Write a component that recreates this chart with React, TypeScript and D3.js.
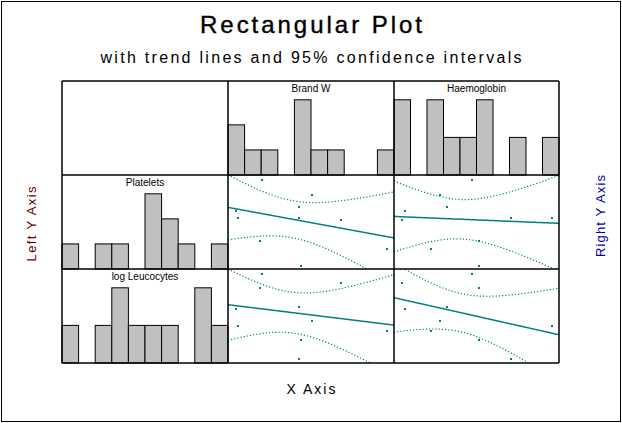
import React from "react";
import * as d3 from "d3";

// ---- data (values on a 0–100 plotting scale, 10 observations) ----
const columnVariables = ["Brand W", "Haemoglobin"];
const rowVariables = ["Platelets", "log Leucocytes"];

const brandW = [19.7, 50.0, 42.2, 4.0, 5.4, 42.2, 67.5, 18.5, 95.2, 43.4];
const haemoglobin = [46.5, 27.1, 31.3, 5.9, 95.2, 70.1, 4.1, 50.9, 21.6, 50.9];
const platelets = [96.1, 80.1, 67.3, 62.8, 55.6, 55.6, 53.5, 31.2, 22.7, 4.6];
const logLeucocytes = [96.1, 45.7, 60.6, 58.8, 40.7, 5.3, 86.5, 81.2, 35.1, 25.9];

// histogram counts (10 bins each)
const brandWCounts = [2, 1, 1, 0, 3, 1, 1, 0, 0, 1];
const haemoglobinCounts = [2, 0, 2, 1, 1, 2, 0, 1, 0, 1];
const plateletsCounts = [1, 0, 1, 1, 0, 3, 2, 1, 0, 1];
const logLeucocytesCounts = [1, 0, 1, 2, 1, 1, 1, 0, 2, 1];

const titleText = "Rectangular Plot";
const subtitleText = "with trend lines and 95% confidence intervals";
const xAxisLabel = "X Axis";
const leftAxisLabel = "Left Y Axis";
const rightAxisLabel = "Right Y Axis";

const T_975_DF8 = 2.306;

const TEAL = "#008080";
const FONT = "Arial, 'Liberation Sans', sans-serif";

function fit(xs: number[], ys: number[]) {
  const n = xs.length;
  const mx = d3.mean(xs)!;
  const my = d3.mean(ys)!;
  let sxx = 0, sxy = 0;
  for (let i = 0; i < n; i++) {
    sxx += (xs[i] - mx) ** 2;
    sxy += (xs[i] - mx) * (ys[i] - my);
  }
  const slope = sxy / sxx;
  const intercept = my - slope * mx;
  let sse = 0;
  for (let i = 0; i < n; i++) sse += (ys[i] - (intercept + slope * xs[i])) ** 2;
  const s = Math.sqrt(sse / (n - 2));
  return { n, mx, sxx, slope, intercept, s };
}

export default function App() {
  const W = 622, H = 423;
  const colEdges = [62, 228, 394, 559];
  const rowEdges = [81, 175, 269, 363];

  const colValues = [brandW, haemoglobin];
  const rowValues = [platelets, logLeucocytes];
  const colCounts = [brandWCounts, haemoglobinCounts];
  const rowCounts = [plateletsCounts, logLeucocytesCounts];

  const histogram = (counts: number[], x0: number, x1: number, y0: number, y1: number, key: string, label: string) => {
    const bx = d3.scaleLinear().domain([0, counts.length]).range([x0, x1]);
    const maxC = d3.max(counts)!;
    const hy = d3.scaleLinear().domain([0, maxC]).range([y1, y1 - 0.8 * (y1 - y0)]);
    return (
      <g key={key}>
        {counts.map((c, i) =>
          c > 0 ? (
            <rect key={i} x={bx(i)} y={hy(c)} width={bx(i + 1) - bx(i)} height={y1 - hy(c)}
              fill="#C0C0C0" stroke="#000" strokeWidth={1} />
          ) : null
        )}
        <text x={(x0 + x1) / 2} y={y0 + 11} textAnchor="middle" fontFamily={FONT} fontSize={10} fill="#000">{label}</text>
      </g>
    );
  };

  const scatter = (xs: number[], ys: number[], x0: number, x1: number, y0: number, y1: number, key: string) => {
    const sx = d3.scaleLinear().domain([0, 100]).range([x0, x1]);
    const sy = d3.scaleLinear().domain([0, 100]).range([y1, y0]);
    const f = fit(xs, ys);
    const grid = d3.range(0, 100.01, 0.5);
    const hw = (x: number) => T_975_DF8 * f.s * Math.sqrt(1 / f.n + (x - f.mx) ** 2 / f.sxx);
    const yhat = (x: number) => f.intercept + f.slope * x;
    const trend = d3.line<number>().x((x) => sx(x)).y((x) => sy(yhat(x)))(grid)!;
    const upper = d3.line<number>().x((x) => sx(x)).y((x) => sy(yhat(x) + hw(x)))(grid)!;
    const lower = d3.line<number>().x((x) => sx(x)).y((x) => sy(yhat(x) - hw(x)))(grid)!;
    const clipId = `clip-${key}`;
    return (
      <g key={key}>
        <defs>
          <clipPath id={clipId}>
            <rect x={x0} y={y0} width={x1 - x0} height={y1 - y0} />
          </clipPath>
        </defs>
        <g clipPath={`url(#${clipId})`}>
          <path d={upper} fill="none" stroke={TEAL} strokeWidth={1.2} strokeDasharray="1.2 2" />
          <path d={lower} fill="none" stroke={TEAL} strokeWidth={1.2} strokeDasharray="1.2 2" />
          <path d={trend} fill="none" stroke={TEAL} strokeWidth={1.5} />
          {xs.map((x, i) => {
            const px = Math.round(sx(x));
            const py = Math.round(sy(ys[i]));
            return <rect key={i} x={px} y={py} width={2} height={2} fill={TEAL} stroke="none" />;
          })}
        </g>
      </g>
    );
  };

  const cells: React.ReactNode[] = [];
  for (let c = 0; c < 2; c++) {
    cells.push(histogram(colCounts[c], colEdges[c + 1], colEdges[c + 2], rowEdges[0], rowEdges[1], `hc${c}`, columnVariables[c]));
  }
  for (let r = 0; r < 2; r++) {
    cells.push(histogram(rowCounts[r], colEdges[0], colEdges[1], rowEdges[r + 1], rowEdges[r + 2], `hr${r}`, rowVariables[r]));
  }
  for (let r = 0; r < 2; r++) {
    for (let c = 0; c < 2; c++) {
      cells.push(scatter(colValues[c], rowValues[r], colEdges[c + 1], colEdges[c + 2], rowEdges[r + 1], rowEdges[r + 2], `s${r}${c}`));
    }
  }

  return (
    <svg width={W} height={H} style={{ position: "absolute", left: 0, top: 0, background: "#fff" }}>
      <rect x={1.5} y={1.5} width={619} height={420} fill="#fff" stroke="#000" strokeWidth={1} />
      <text x={311} y={33} textAnchor="middle" fontFamily={FONT} fontSize={24} textLength={222} lengthAdjust="spacing" fill="#000" stroke="#000" strokeWidth={0.4}>{titleText}</text>
      <text x={311} y={63} textAnchor="middle" fontFamily={FONT} fontSize={16} textLength={421} lengthAdjust="spacing" fill="#000">{subtitleText}</text>
      {cells}
      {colEdges.map((x, i) => (
        <line key={`v${i}`} x1={x} x2={x} y1={rowEdges[0]} y2={rowEdges[3]} stroke="#000" strokeWidth={1.5} />
      ))}
      {rowEdges.map((y, i) => (
        <line key={`h${i}`} x1={colEdges[0]} x2={colEdges[3]} y1={y} y2={y} stroke="#000" strokeWidth={1.5} />
      ))}
      <text x={311} y={394} textAnchor="middle" fontFamily={FONT} fontSize={14} textLength={49} lengthAdjust="spacing" fill="#000">{xAxisLabel}</text>
      <text transform="translate(36,224) rotate(-90)" textAnchor="middle" fontFamily={FONT} fontSize={13} textLength={75} lengthAdjust="spacing" fill="#600000">{leftAxisLabel}</text>
      <text transform="translate(605,216) rotate(-90)" textAnchor="middle" fontFamily={FONT} fontSize={13} textLength={82} lengthAdjust="spacing" fill="#0000A0">{rightAxisLabel}</text>
    </svg>
  );
}
